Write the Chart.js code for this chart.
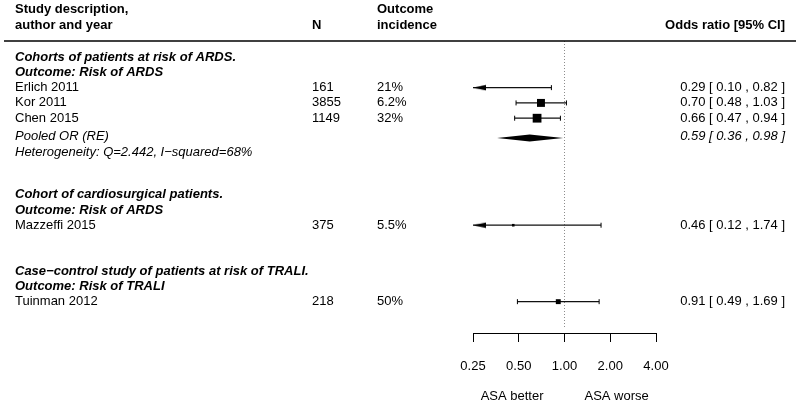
<!DOCTYPE html>
<html>
<head>
<meta charset="utf-8">
<script src="https://cdn.jsdelivr.net/npm/chart.js@4/dist/chart.umd.min.js"></script>
<style>
	html, body { margin: 0; padding: 0; background: #fff; }
	#wrap { width: 800px; height: 405px; position: relative; }
</style>
</head>
<body>
<div id="wrap"><canvas id="forest"></canvas></div>
<script>
	// Studies
	const studyNames = ['Erlich 2011', 'Kor 2011', 'Chen 2015', 'Mazzeffi 2015', 'Tuinman 2012'];
	const sampleSize = [161, 3855, 1149, 375, 218];
	const incidence = ['21%', '6.2%', '32%', '5.5%', '50%'];
	const orEst = [0.29, 0.70, 0.66, 0.46, 0.91];
	const orLow = [0.10, 0.48, 0.47, 0.12, 0.49];
	const orHigh = [0.82, 1.03, 0.94, 1.74, 1.69];
	const studyRows = [0, 1, 2, 9, 14];

	// Subgroup titles
	const groupTitles = [
		'Cohorts of patients at risk of ARDS.', 'Outcome: Risk of ARDS',
		'Cohort of cardiosurgical patients.', 'Outcome: Risk of ARDS',
		'Case\u2212control study of patients at risk of TRALI.', 'Outcome: Risk of TRALI'
	];
	const groupRows = [-2, -1, 7, 8, 12, 13];

	// Pooled estimate (random effects)
	const pooledEst = [0.59];
	const pooledLow = [0.36];
	const pooledHigh = [0.98];
	const pooledRow = [3.3];
	const hetText = 'Heterogeneity: Q=2.442, I\u2212squared=68%';

	// Axis
	const xTicks = [0.25, 0.5, 1, 2, 4];
	const xMin = 0.25;
	const xMax = 4;

	(() => {
		'use strict'

		const FONT = '"Liberation Sans", Arial, Helvetica, sans-serif';
		const black = '#000000';
		const rowMin = -3.05, rowMax = 16.05;
		const diamondHalf = 0.23;

		// left-pointing arrow head; tip sits at the image centre
		const arrow = document.createElement('canvas');
		arrow.width = 28;
		arrow.height = 7;
		const actx = arrow.getContext('2d');
		actx.fillStyle = black;
		actx.beginPath();
		actx.moveTo(14, 3.5);
		actx.lineTo(27, 0.8);
		actx.lineTo(27, 6.2);
		actx.closePath();
		actx.fill();

		function fmt(e, l, h) {
			return e.toFixed(2) + ' [ ' + l.toFixed(2) + ' , ' + h.toFixed(2) + ' ]';
		}

		// square size from inverse-variance weight
		const squareRadius = orLow.map((l, i) => {
			const se = Math.log(orHigh[i] / l) / (2 * 1.96);
			const side = Math.max(2.6, 1.55 * Math.sqrt(1 / (se * se)));
			return side / Math.SQRT2;
		});

		const datasets = [];

		// Point estimates
		datasets.push({
			data: orEst.map((v, i) => ({ x: v, y: studyRows[i] })),
			pointStyle: 'rect',
			pointRadius: squareRadius,
			backgroundColor: black,
			borderColor: black,
			pointBorderWidth: 0,
			showLine: false
		});

		// Confidence intervals
		orEst.forEach((v, i) => {
			const cut = orLow[i] < xMin;
			datasets.push({
				data: [{ x: Math.max(orLow[i], xMin), y: studyRows[i] }, { x: orHigh[i], y: studyRows[i] }],
				showLine: true,
				borderColor: '#111111',
				borderWidth: 1.2,
				pointStyle: [cut ? arrow : 'line', 'line'],
				rotation: [cut ? 0 : 90, 90],
				pointRadius: 2.5,
				pointBorderColor: black,
				pointBorderWidth: 1,
				backgroundColor: black
			});
		});

		// Pooled diamond: upper half filled down to lower half
		datasets.push({
			data: [
				{ x: pooledLow[0], y: pooledRow[0] },
				{ x: pooledEst[0], y: pooledRow[0] - diamondHalf },
				{ x: pooledHigh[0], y: pooledRow[0] }
			],
			showLine: true,
			borderWidth: 0,
			borderColor: black,
			pointRadius: 0,
			fill: '+1',
			backgroundColor: black
		});
		datasets.push({
			data: [
				{ x: pooledLow[0], y: pooledRow[0] },
				{ x: pooledEst[0], y: pooledRow[0] + diamondHalf },
				{ x: pooledHigh[0], y: pooledRow[0] }
			],
			showLine: true,
			borderWidth: 0,
			borderColor: black,
			pointRadius: 0,
			fill: false
		});

		// Line of no effect
		datasets.push({
			data: [{ x: 1, y: rowMin }, { x: 1, y: 15.75 }],
			showLine: true,
			borderColor: '#8c8c8c',
			borderWidth: 1,
			borderDash: [1, 2],
			pointRadius: 0
		});

		// Text columns, header rule and direction labels
		const forestText = {
			id: 'forestText',
			afterDraw(chart) {
				const ctx = chart.ctx;
				const ys = chart.scales.y;
				const xs = chart.scales.x;
				const py = (r) => ys.getPixelForValue(r);
				const colStudy = 15, colN = 312, colInc = 377, colOR = 785;

				ctx.save();
				ctx.fillStyle = black;
				ctx.textBaseline = 'middle';

				// header
				ctx.font = 'bold 13px ' + FONT;
				ctx.textAlign = 'left';
				ctx.fillText('Study description,', colStudy, py(-5.1));
				ctx.fillText('author and year', colStudy, py(-4.1));
				ctx.fillText('N', colN, py(-4.1));
				ctx.fillText('Outcome', colInc, py(-5.1));
				ctx.fillText('incidence', colInc, py(-4.1));
				ctx.textAlign = 'right';
				ctx.fillText('Odds ratio [95% CI]', colOR, py(-4.1));

				ctx.strokeStyle = black;
				ctx.lineWidth = 1.5;
				ctx.beginPath();
				ctx.moveTo(4, chart.chartArea.top);
				ctx.lineTo(796, chart.chartArea.top);
				ctx.stroke();

				// subgroup titles
				ctx.font = 'italic bold 13px ' + FONT;
				ctx.textAlign = 'left';
				groupTitles.forEach((t, i) => ctx.fillText(t, colStudy, py(groupRows[i])));

				// study rows
				ctx.font = '13px ' + FONT;
				studyNames.forEach((name, i) => {
					const y = py(studyRows[i]);
					ctx.textAlign = 'left';
					ctx.fillText(name, colStudy, y);
					ctx.fillText(String(sampleSize[i]), colN, y);
					ctx.fillText(incidence[i], colInc, y);
					ctx.textAlign = 'right';
					ctx.fillText(fmt(orEst[i], orLow[i], orHigh[i]), colOR, y);
				});

				// pooled row
				ctx.font = 'italic 13px ' + FONT;
				ctx.textAlign = 'left';
				ctx.fillText('Pooled OR (RE)', colStudy, py(pooledRow[0]) - 2);
				ctx.fillText(hetText, colStudy, py(pooledRow[0] + 0.95));
				ctx.textAlign = 'right';
				ctx.fillText(fmt(pooledEst[0], pooledLow[0], pooledHigh[0]), colOR, py(pooledRow[0]) - 2);

				// direction labels under the axis
				ctx.font = '13px ' + FONT;
				const x1 = xs.getPixelForValue(1);
				const yLab = xs.top + 63;
				ctx.textAlign = 'right';
				ctx.fillText('ASA better', x1 - 21, yLab);
				ctx.textAlign = 'left';
				ctx.fillText('ASA worse', x1 + 20, yLab);

				ctx.restore();
			}
		};

		const ctx = document.getElementById('forest');
		new Chart(ctx, {
			type: 'scatter',
			data: { datasets: datasets },
			options: {
				responsive: true,
				maintainAspectRatio: false,
				animation: false,
				events: [],
				layout: {
					padding: { left: 473, right: 144, top: 41, bottom: 0 }
				},
				plugins: {
					legend: { display: false },
					tooltip: { enabled: false },
					title: { display: false }
				},
				scales: {
					x: {
						type: 'logarithmic',
						min: xMin,
						max: xMax,
						afterBuildTicks: (scale) => {
							scale.ticks = xTicks.map(v => ({ value: v }));
						},
						afterFit: (scale) => {
							scale.height = 72;
						},
						ticks: {
							autoSkip: false,
							maxRotation: 0,
							padding: 17,
							color: black,
							font: { family: FONT, size: 13 },
							callback: (v) => Number(v).toFixed(2)
						},
						grid: {
							display: true,
							drawOnChartArea: false,
							drawTicks: true,
							tickLength: 9,
							color: black,
							lineWidth: 1
						},
						border: { display: true, color: black, width: 1 }
					},
					y: {
						type: 'linear',
						reverse: true,
						min: rowMin,
						max: rowMax,
						display: false
					}
				}
			},
			plugins: [forestText]
		});
	})()
</script>
</body>
</html>
